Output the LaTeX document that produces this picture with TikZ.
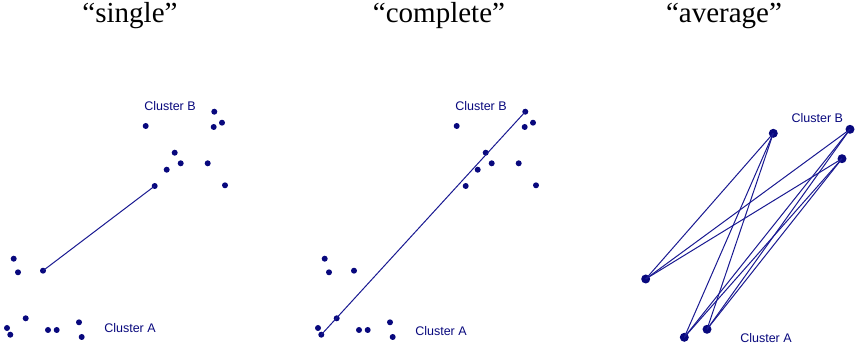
\documentclass[tikz,border=0pt]{standalone}
\usepackage{fontspec}
\setmainfont{Liberation Serif}
\newfontfamily\labelfont{Liberation Sans}
\definecolor{navy}{RGB}{8,8,125}
\definecolor{linkblue}{RGB}{25,25,145}

\begin{document}
\begin{tikzpicture}[x=1pt, y=-1pt,
    sample/.style={circle, fill=navy, inner sep=0pt, minimum size=6pt},
    bigsample/.style={sample, minimum size=9pt},
    link/.style={draw=linkblue, line width=1pt},
    clabel/.style={font=\labelfont\fontsize{12.5}{14}\selectfont, text=navy},
    heading/.style={font=\fontsize{29}{32}\selectfont, anchor=base}
  ]
    \useasboundingbox (0,0) rectangle (860,347);
    % titles
    \node[heading] (tsingle) at (130,23) {“single”};
    \node[heading] (tcomplete) at (439,23) {“complete”};
    \node[heading] (taverage) at (724,23) {“average”};
    % single and complete: same samples, second panel shifted
    \foreach \p/\dx/\ay in {s/0/328, c/311/330.7}{
      \begin{scope}[xshift=\dx]
        \foreach \n/\x/\y in {1/145.7/126, 2/214.3/111.7, 3/213.7/127, 4/222/122.7,
            5/174.7/152.7, 6/180.7/163.3, 7/166.7/169.7, 8/207.7/163.3,
            9/154.7/186, 10/225/185.3}
          \node[sample] (\p-b\n) at (\x,\y) {};
        \foreach \n/\x/\y in {1/13.7/258.7, 2/18/272.3, 3/43/270.7, 4/25.7/318.3,
            5/7/328, 6/10.3/334.7, 7/48/330, 8/56.7/330,
            9/79/322.3, 10/81.7/337}
          \node[sample] (\p-a\n) at (\x,\y) {};
        \node[clabel] (\p-lb) at (170,106) {Cluster B};
        \node[clabel] (\p-la) at (130,\ay) {Cluster A};
      \end{scope}
    }
    \draw[link] (s-a3.center) -- (s-b9.center);
    \draw[link] (c-a6.center) -- (c-b2.center);
    % average: all pairs
    \node[bigsample] (v-b1) at (773.3,133.3) {};
    \node[bigsample] (v-b2) at (850,129.3) {};
    \node[bigsample] (v-b3) at (842,158.7) {};
    \node[bigsample] (v-a1) at (645.7,279) {};
    \node[bigsample] (v-a2) at (684.3,337.3) {};
    \node[bigsample] (v-a3) at (707,329.3) {};
    \node[clabel] (v-lb) at (817.3,118.3) {Cluster B};
    \node[clabel] (v-la) at (766,337.7) {Cluster A};
    \foreach \i in {1,2,3}
      \foreach \j in {1,2,3}
        \draw[link] (v-a\i.center) -- (v-b\j.center);
  \end{tikzpicture}
\end{document}
